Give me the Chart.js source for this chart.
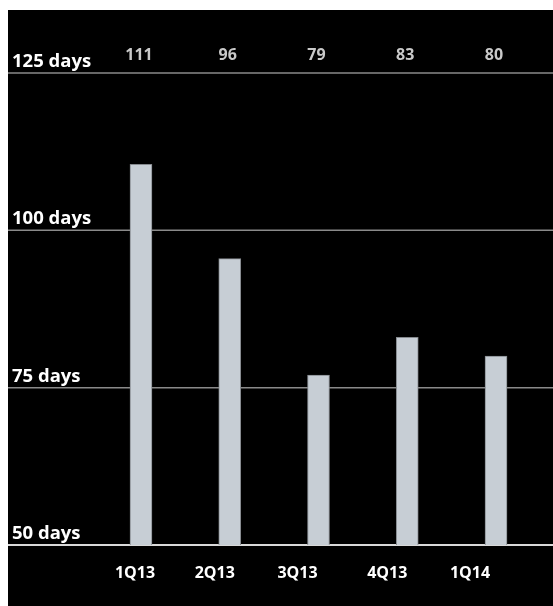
<!DOCTYPE html>
<html>
<head>
<meta charset="utf-8">
<script src="https://cdn.jsdelivr.net/npm/chart.js@4"></script>
<style>
  html, body { margin: 0; padding: 0; background: #fff; }
  #wrap { position: absolute; left: 8px; top: 10px; width: 545px; height: 596px; background: #000; }
</style>
</head>
<body>
<div id="wrap"><canvas id="chart" width="545" height="596"></canvas></div>
<script>
// quarters and days
const quarters = ['1Q13', '2Q13', '3Q13', '4Q13', '1Q14'];
const barValues = [110.5, 95.5, 77, 83, 80];
const valueLabels = ['111', '96', '79', '83', '80'];
const yTicks = [50, 75, 100, 125];
const yTickLabels = ['50 days', '75 days', '100 days', '125 days'];

const FONT = '"Open Sans", Lato, sans-serif';

// gridlines + text drawn with the chart's own scales
const decorPlugin = {
    id: 'decor',
    beforeDatasetsDraw(chart) {
        const ctx = chart.ctx;
        const y = chart.scales.y;
        ctx.save();
        yTicks.forEach((t, i) => {
            const py = y.getPixelForValue(t);
            ctx.beginPath();
            if (i === 0) {
                ctx.strokeStyle = '#d9d9d9';
                ctx.lineWidth = 2;
            } else {
                ctx.strokeStyle = '#8a8a8a';
                ctx.lineWidth = 1.5;
            }
            ctx.moveTo(0, py);
            ctx.lineTo(chart.width, py);
            ctx.stroke();
        });
        ctx.restore();
    },
    afterDatasetsDraw(chart) {
        const ctx = chart.ctx;
        const x = chart.scales.x;
        const y = chart.scales.y;
        ctx.save();
        // y labels
        ctx.fillStyle = '#ffffff';
        ctx.font = 'bold 18.5px ' + FONT;
        ctx.textAlign = 'left';
        ctx.textBaseline = 'alphabetic';
        yTicks.forEach((t, i) => {
            ctx.fillText(yTickLabels[i], 4, y.getPixelForValue(t) - 6);
        });
        // values on top
        ctx.fillStyle = '#c9c9c9';
        ctx.font = 'bold 16px ' + FONT;
        ctx.textAlign = 'center';
        ctx.textBaseline = 'middle';
        valueLabels.forEach((v, i) => {
            ctx.fillText(v, x.getPixelForValue(i) - 2, 45);
        });
        // category labels
        const shift = [-6, -15, -21, -20, -26];
        ctx.fillStyle = '#ffffff';
        ctx.font = 'bold 16px ' + FONT;
        quarters.forEach((q, i) => {
            ctx.fillText(q, x.getPixelForValue(i) + shift[i], 563);
        });
        ctx.restore();
    }
};

new Chart(document.getElementById('chart').getContext('2d'), {
    type: 'bar',
    data: {
        labels: quarters,
        datasets: [{
            data: barValues,
            backgroundColor: '#c7ced5',
            borderColor: '#85898e',
            borderWidth: 1,
            barThickness: 22
        }]
    },
    options: {
        responsive: false,
        animation: false,
        layout: { padding: { left: 88.6, right: 12.6, top: 63, bottom: 61 } },
        plugins: { legend: { display: false }, tooltip: { enabled: false } },
        scales: {
            x: { display: false },
            y: { display: false, min: 50, max: 125 }
        }
    },
    plugins: [decorPlugin]
});
</script>
</body>
</html>
